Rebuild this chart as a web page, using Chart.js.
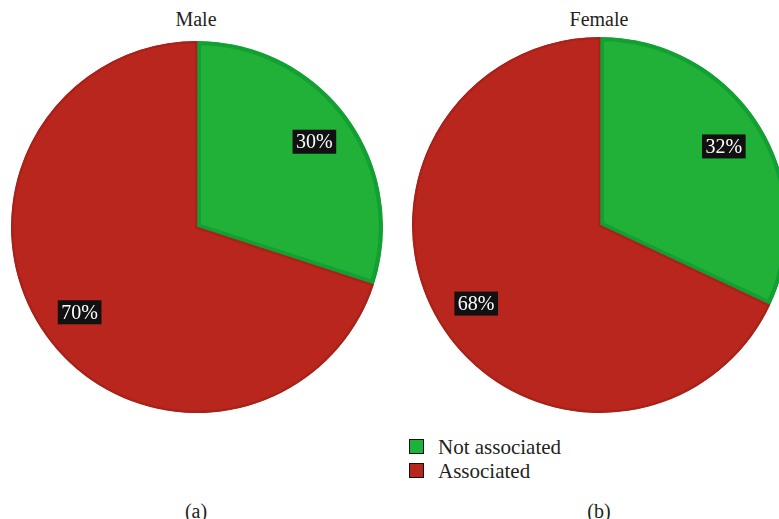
<!DOCTYPE html>
<html>
<head>
<meta charset="utf-8">
<script src="https://cdn.jsdelivr.net/npm/chart.js@4"></script>
<style>
  html, body { margin: 0; padding: 0; background: #fff; overflow: hidden; }
  body { width: 779px; height: 519px; position: relative; color: #231f20; font-family: 'Liberation Serif', serif; }
  .box { position: absolute; }
  .txt { position: absolute; font-size: 20px; line-height: 20px; white-space: nowrap; width: 120px; text-align: center; }
  .leg { position: absolute; font-size: 21px; line-height: 21px; white-space: nowrap; }
  .sw { position: absolute; width: 13px; height: 13px; border: 1.5px solid #111; }
</style>
</head>
<body>
<div class="txt" style="left:136px; top:9px;">Male</div>
<div class="txt" style="left:539px; top:9px;">Female</div>

<div class="box" style="left:11px; top:41px; width:372px; height:372px;"><canvas id="male"></canvas></div>
<div class="box" style="left:412px; top:37px; width:376px; height:376px;"><canvas id="female"></canvas></div>

<div class="sw" style="left:409px; top:439px; background:#1db33b;"></div>
<div class="leg" style="left:438px; top:437px;">Not associated</div>
<div class="sw" style="left:409px; top:463px; background:#b8261d;"></div>
<div class="leg" style="left:438px; top:461px;">Associated</div>

<div class="txt" style="left:136px; top:501px;">(a)</div>
<div class="txt" style="left:539px; top:501px;">(b)</div>

<script>
// catégories et valeurs (%)
const categories = ["Not associated", "Associated"];
const maleValues = [30, 70];
const femaleValues = [32, 68];

const fillColors = ["#21b138", "#b8261d"];
const edgeColors = ["#12a033", "#a9221a"];

Chart.defaults.font.family = "'Liberation Serif', serif";

// étiquettes noires dans les parts
const pctLabels = {
  id: "pctLabels",
  afterDatasetsDraw(chart) {
    const ctx = chart.ctx;
    const meta = chart.getDatasetMeta(0);
    const data = chart.data.datasets[0].data;
    ctx.save();
    ctx.font = "20px 'Liberation Serif'";
    ctx.textAlign = "center";
    ctx.textBaseline = "middle";
    meta.data.forEach((arc, i) => {
      const p = arc.getProps(["x", "y", "startAngle", "endAngle", "outerRadius"], true);
      const mid = (p.startAngle + p.endAngle) / 2;
      const r = p.outerRadius * 0.78;
      const cx = p.x + Math.cos(mid) * r;
      const cy = p.y + Math.sin(mid) * r;
      const txt = data[i] + "%";
      const w = ctx.measureText(txt).width + 7;
      ctx.fillStyle = "#111";
      ctx.fillRect(cx - w / 2, cy - 12, w, 24);
      ctx.fillStyle = "#fff";
      ctx.fillText(txt, cx, cy + 1);
    });
    ctx.restore();
  }
};

function makePie(id, values) {
  new Chart(document.getElementById(id), {
    type: "pie",
    data: {
      labels: categories,
      datasets: [{
        data: values,
        backgroundColor: fillColors,
        borderColor: edgeColors,
        borderWidth: [4, 2],
        borderAlign: "inner",
        hoverOffset: 0
      }]
    },
    options: {
      animation: false,
      responsive: true,
      maintainAspectRatio: false,
      layout: { padding: 0 },
      plugins: {
        legend: { display: false },
        tooltip: { enabled: false },
        title: { display: false }
      }
    },
    plugins: [pctLabels]
  });
}

makePie("male", maleValues);
makePie("female", femaleValues);
</script>
</body>
</html>
